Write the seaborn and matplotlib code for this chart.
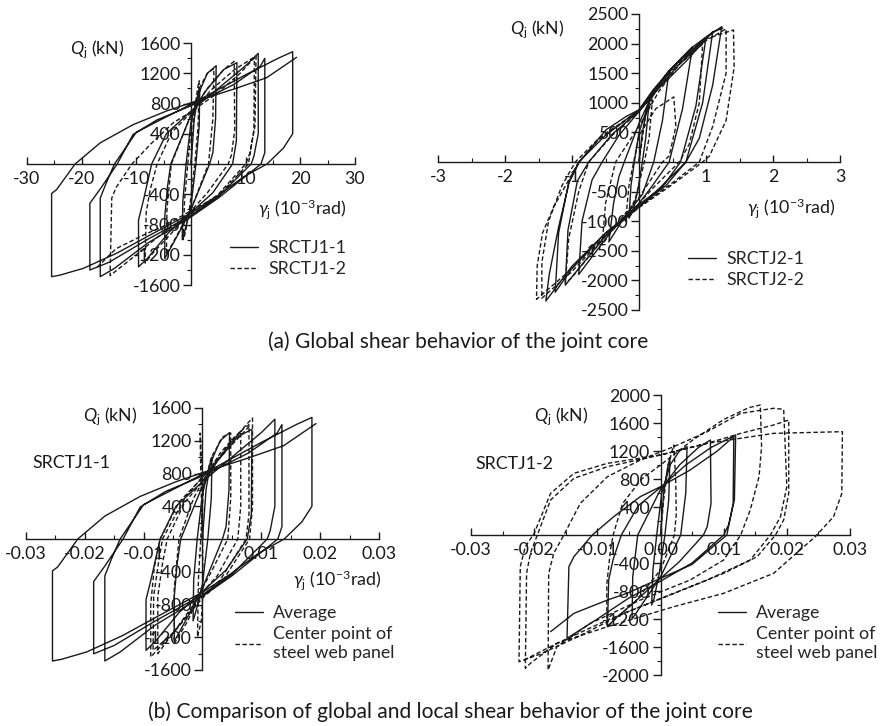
import numpy as np
import matplotlib
matplotlib.use("Agg")
import matplotlib.pyplot as plt
from matplotlib.lines import Line2D
from matplotlib.ticker import MultipleLocator, FuncFormatter
import seaborn as sns

# hysteresis paths, strain in 10^-3 rad, shear in kN
# SRCTJ1-1 global (also the "Average" curve of the lower left panel)
J11_x = [0.0,
         0.6, 1.4, 1.6, 1.5, 0.9, 0.0, -1.0, -1.6, -1.5, -0.9, 0.0,
         1.2, 3.0, 4.6, 4.5, 4.0, 3.4, 0.0, -2.5, -4.8, -4.8, -4.3, -3.7, 0.0,
         2.5, 6.0, 8.4, 8.3, 7.6, 4.0, 0.0, -4.0, -8.0, -9.6, -9.6, -8.7, -7.2, -4.5, 0.0,
         5.0, 10.0, 12.3, 12.3, 11.5, 11.0, 5.0, 0.0, -8.0, -15.0, -18.5, -18.5, -16.6, -13.5,
         -10.6, -6.3, 0.0, 7.8, 12.7, 13.5,
         13.5, 12.8, 5.0, 0.0, -8.0, -14.0, -16.6, -16.6, -15.5, -14.0, -10.0, 0.0, 10.0, 16.0, 18.6,
         18.6, 16.9, 13.9, 9.6, 4.7, 0.0, -7.5, -13.6, -19.7, -24.0, -25.5, -25.5, -24.6, -21.2,
         -16.6, -10.6, -4.5, 0.0, 7.8, 13.8, 19.3]
J11_q = [0,
         600, 950, 1000, 500, 0, -550, -850, -1000, -500, 0, 550,
         900, 1200, 1300, 600, 150, 0, -600, -950, -1250, -700, -300, 0, 650,
         950, 1250, 1340, 300, 0, -380, -640, -900, -1250, -1360, -740, -480, 0, 400, 700,
         1000, 1300, 1463, 400, 100, 0, -430, -680, -1000, -1300, -1402, -520, -330, 0,
         390, 580, 770, 1050, 1295, 1397,
         150, 0, -450, -700, -1050, -1380, -1490, -450, -250, 0, 420, 790, 1180, 1400, 1485,
         400, 210, 0, -170, -430, -650, -940, -1180, -1380, -1470, -1490, -390, -340, 0,
         280, 520, 700, 810, 990, 1140, 1410]

# SRCTJ1-2 global (also the "Average" curve of the lower right panel)
J12_x = [0.0,
         0.5, 1.2, 1.5, 1.3, 0.7, -0.2, -1.0, -1.4, -1.2, -0.6, 0.2,
         1.5, 3.0, 4.2, 4.0, 3.2, 0.0, -3.0, -4.5, -4.4, -3.6, 0.0,
         3.0, 6.0, 7.9, 8.0, 7.4, 6.8, 3.0, 0.0, -4.0, -7.0, -8.4, -8.2, -7.5, -6.2, -3.5, 0.0,
         4.0, 8.0, 11.9, 11.7, 10.8, 10.0, 5.0, 0.0, -5.0, -10.0, -14.8, -14.5, -13.7, -10.8,
         -7.4, -3.2, 0.0, 4.7, 9.0, 11.6,
         11.5, 10.5, 5.0, 0.0, -5.3, -8.4, -13.7, -17.4]
J12_q = [0,
         600, 1000, 1100, 500, 0, -550, -900, -1000, -500, 0, 600,
         1000, 1200, 1262, 600, 0, -600, -1000, -1200, -600, 0, 650,
         1000, 1250, 1357, 450, 120, 0, -380, -620, -950, -1180, -1310, -640, -350, 0, 420, 680,
         1000, 1250, 1429, 500, 150, 0, -400, -660, -900, -1200, -1476, -452, -309, 0,
         262, 548, 690, 929, 1200, 1405,
         450, 0, -420, -619, -833, -929, -1119, -1381]

# SRCTJ2-1 global
J21_x = [0.0,
         0.05, 0.12, 0.15, 0.10, 0.05, -0.02, -0.10, -0.15, -0.12, -0.07, 0.0,
         0.15, 0.35, 0.45, 0.35, 0.22, 0.05, -0.20, -0.45, -0.38, -0.30, -0.22, 0.0,
         0.20, 0.50, 0.80, 0.65, 0.45, 0.20, 0.0, -0.40, -0.80, -0.90, -0.85, -0.70, -0.55, -0.30, 0.0,
         0.25, 0.60, 1.00, 0.85, 0.62, 0.35, 0.0, -0.45, -0.90, -1.10, -1.06, -0.92, -0.75, -0.40,
         0.0,
         0.30, 0.70, 1.10, 0.95, 0.70, 0.40, 0.0, -0.50, -1.00, -1.25, -1.20, -1.05, -0.90, -0.50,
         0.0, 0.50, 1.00, 1.235,
         1.10, 0.90, 0.70, 0.30, 0.0, -0.50, -1.00, -1.39, -1.34, -1.20, -1.04, -0.89, -0.74,
         -0.49, -0.19, 0.0, 0.21, 0.51, 0.81, 1.11, 1.25]
J21_q = [0,
         500, 900, 1000, 400, 0, -500, -850, -950, -400, 0, 500,
         1000, 1400, 1550, 700, 0, -550, -900, -1350, -700, -250, 0, 650,
         1150, 1600, 1950, 900, 0, -400, -700, -1150, -1750, -1900, -1000, -300, 0, 450, 850,
         1200, 1650, 2100, 950, 0, -420, -720, -1180, -1800, -2080, -1150, -320, 0, 470,
         860,
         1250, 1700, 2200, 1000, 0, -400, -750, -1200, -1800, -2200, -1200, -350, 0, 450,
         880, 1600, 2100, 2287,
         1300, 400, 0, -450, -760, -1200, -1760, -2348, -1900, -1100, -330, 0, 208,
         545, 770, 882, 1219, 1612, 1950, 2202, 2260]

# SRCTJ2-2 global
J22_x = [0.0,
         0.10, 0.20, 0.15, 0.08, -0.05, -0.20, -0.15, -0.08, 0.0,
         0.25, 0.52, 0.55, 0.45, 0.35, 0.0, -0.30, -0.55, -0.50, -0.35, 0.0,
         0.30, 0.60, 0.95, 0.90, 0.75, 0.60, 0.20, 0.0, -0.50, -1.00, -1.10, -1.05, -0.90, -0.75, -0.40, 0.0,
         0.50, 1.00, 1.30, 1.30, 1.10, 0.90, 0.50, 0.0, -0.50, -1.00, -1.45, -1.45, -1.35, -1.15,
         -0.95, -0.60, 0.0, 0.50, 1.00, 1.41,
         1.42, 1.30, 1.05, 0.95, 0.50, 0.0, -0.50, -1.00, -1.53, -1.52, -1.44, -1.27, -0.99,
         -0.90, -0.60, 0.0]
J22_q = [0,
         800, 1050, 400, 0, -600, -1000, -400, 0, 450,
         900, 1100, 600, 100, 0, -600, -1000, -1400, -700, 0, 600,
         1200, 1650, 2000, 1000, 300, 0, -450, -700, -1250, -1950, -2050, -1300, -500, 0, 450, 850,
         1550, 2050, 2250, 1500, 600, 0, -350, -760, -1250, -1850, -2300, -1700, -1000, -400,
         0, 400, 870, 1580, 2080, 2230,
         1600, 700, 100, 0, -380, -770, -1230, -1800, -2320, -1760, -1200, -750, -185,
         0, 380, 860]

# centre point of steel web panel, SRCTJ1-1
W11_x = [0.0,
         0.0, -0.2, -0.4, -0.3, 0.0, 0.1, -0.2, -0.85, -0.7, -0.3, 0.1,
         1.5, 3.5, 4.8, 4.8, 4.3, 1.5, 0.0, -2.5, -4.8, -4.8, -4.0, -1.5, 0.0,
         3.0, 5.5, 6.5, 6.5, 6.0, 2.5, 0.0, -4.0, -7.6, -7.6, -6.8, -6.0, -3.0, 0.0,
         4.0, 7.0, 7.9, 7.9, 7.4, 3.0, 0.0, -5.0, -8.8, -8.8, -8.2, -7.2, -4.0, 0.0,
         4.5, 7.5, 8.5, 8.5, 8.0, 3.5, 0.0, -5.0, -8.4, -8.3, -7.5, -6.8, -3.0, 0.0, 5.0, 8.0]
W11_q = [0,
         600, 1000, 1294, 800, 0, -600, -1000, -1196, -500, 0, 600,
         1000, 1250, 1294, 500, 0, -400, -600, -1000, -1278, -600, 0, 500, 700,
         1050, 1250, 1314, 400, 0, -450, -650, -1050, -1400, -700, -300, 0, 450, 700,
         1100, 1350, 1396, 300, 0, -500, -700, -1150, -1441, -800, -350, 0, 450, 750,
         1150, 1400, 1478, 400, 0, -500, -720, -1150, -1360, -700, -300, 0, 500, 760, 1150, 1380]

# centre point of steel web panel, SRCTJ1-2
W12_x = [0.0,
         0.5, 1.2, 2.1, 2.4, 2.5, 2.2, 0.0, -4.0, -8.5, -8.5, -7.9, -7.5, -6.0, -3.0, 0.0,
         5.0, 10.0, 14.0, 15.8,
         16.0, 15.6, 14.2, 12.7, 10.0, 4.7, -3.2, -11.1, -16.4, -17.8, -17.7, -16.9, -15.3,
         -12.7, -8.4, -3.2, 2.1, 7.4, 12.7, 17.9, 19.5,
         20.0, 19.0, 17.4, 14.2, 7.4, -0.5, -8.4, -16.4, -20.6, -21.4, -21.2, -20.6, -19.5,
         -17.4, -13.7, -8.4, 0.0, 7.4, 12.7, 17.9, 20.3,
         20.3, 19.5, 18.2, 15.3, 10.0, 2.1, -5.8, -13.0, -19.0, -22.4, -22.2, -21.4, -20.0,
         -17.4, -13.7, -8.4, 0.0, 7.4, 17.9, 28.8,
         28.7, 27.4, 24.5, 17.9, 10.0, 2.1, -8.4, -16.4, -21.6]
W12_q = [0,
         500, 1000, 1286, 800, 300, 0, -500, -950, -1310, -700, -200, 0, 450, 800, 1000,
         1350, 1650, 1820, 1857,
         1262, 833, 357, 0, -357, -643, -929, -1262, -1595, -1929, -548, -262, 0,
         452, 833, 1071, 1262, 1476, 1738, 1810, 1795,
         690, 262, 0, -357, -643, -929, -1214, -1548, -1833, -1905, -548, -262, 0,
         500, 810, 976, 1143, 1310, 1452, 1571, 1643,
         595, 214, 0, -310, -548, -833, -1119, -1450, -1700, -1810, -452, -167, 24,
         595, 881, 1024, 1143, 1310, 1452, 1476,
         595, 262, -24, -548, -833, -1024, -1310, -1548, -1786]

INK = "#1a1a1a"
FS = 12.8
CAP_FS = 15.1
W, H = 893, 726

sns.set_theme(style="ticks")
plt.rcParams["font.family"] = ["Lato", "DejaVu Sans"]
plt.rcParams["mathtext.fontset"] = "custom"
plt.rcParams["mathtext.rm"] = "Lato"
plt.rcParams["mathtext.it"] = "Lato:italic"
plt.rcParams["axes.unicode_minus"] = False


def box(left, top, right, bottom):
    return [left / W, 1 - bottom / H, (right - left) / W, (bottom - top) / H]


def fx(x):
    return x / W


def fy(y):
    return 1 - y / H


def draw(ax, x, q, scale=1.0, dashed=False):
    ls = (0, (3.2, 1.8)) if dashed else "-"
    sns.lineplot(x=np.asarray(x) * scale, y=np.asarray(q, dtype=float), sort=False,
                 estimator=None, color=INK, linewidth=1.0, linestyle=ls, ax=ax)


def style(ax, xlim, ylim, xstep, ystep, xdec=0, keep_x0=False):
    ax.set_xlim(*xlim)
    ax.set_ylim(*ylim)
    ax.set_facecolor("none")
    sns.despine(ax=ax)
    ax.spines["left"].set_position(("data", 0))
    ax.spines["bottom"].set_position(("data", 0))
    for s in ("left", "bottom"):
        ax.spines[s].set_color(INK)
        ax.spines[s].set_linewidth(1.0)
    ax.xaxis.set_major_locator(MultipleLocator(xstep))
    ax.xaxis.set_minor_locator(MultipleLocator(xstep / 2))
    ax.yaxis.set_major_locator(MultipleLocator(ystep))
    ax.yaxis.set_minor_locator(MultipleLocator(ystep / 2))

    def xfmt(v, pos):
        if abs(v) < xstep * 1e-3:
            return f"{0:.{xdec}f}" if keep_x0 else ""
        return f"{v:.{xdec}f}"

    def yfmt(v, pos):
        return "" if abs(v) < 1e-6 else f"{v:.0f}"

    ax.xaxis.set_major_formatter(FuncFormatter(xfmt))
    ax.yaxis.set_major_formatter(FuncFormatter(yfmt))
    ax.tick_params(axis="y", which="major", direction="out", length=5.5, width=1.0,
                   pad=2, labelsize=FS, colors=INK, left=True)
    ax.tick_params(axis="y", which="minor", direction="out", length=3, width=0.8,
                   colors=INK, left=True)
    ax.tick_params(axis="x", which="major", direction="in", length=5, width=1.0,
                   pad=5, labelsize=FS, colors=INK, bottom=True)
    ax.tick_params(axis="x", which="minor", direction="in", length=3, width=0.8,
                   colors=INK, bottom=True)
    ax.set_xlabel("")
    ax.set_ylabel("")


def legend(ax, x, y, labels):
    handles = [Line2D([], [], color=INK, lw=1.0),
               Line2D([], [], color=INK, lw=1.0, linestyle=(0, (3.2, 1.8)))]
    ax.legend(handles, labels, loc="upper left", bbox_to_anchor=(fx(x), fy(y)),
              bbox_transform=fig.transFigure, frameon=False, fontsize=FS,
              handlelength=1.55, handletextpad=0.6, labelspacing=0.28,
              borderpad=0, borderaxespad=0)


fig = plt.figure(figsize=(W / 100, H / 100), dpi=100)
ax_a1 = fig.add_axes(box(27, 43, 355, 285))
ax_a2 = fig.add_axes(box(438, 14, 840, 310))
ax_b1 = fig.add_axes(box(26, 408, 379, 670))
ax_b2 = fig.add_axes(box(471, 395, 850, 675))

# (a) global behaviour
draw(ax_a1, J11_x, J11_q)
draw(ax_a1, J12_x, J12_q, dashed=True)
style(ax_a1, (-30, 30), (-1600, 1600), 10, 400)

draw(ax_a2, J21_x, J21_q)
draw(ax_a2, J22_x, J22_q, dashed=True)
style(ax_a2, (-3, 3), (-2500, 2500), 1, 500)

# (b) global vs local
draw(ax_b1, J11_x, J11_q, scale=1e-3)
draw(ax_b1, W11_x, W11_q, scale=1e-3, dashed=True)
style(ax_b1, (-0.03, 0.03), (-1600, 1600), 0.01, 400, xdec=2)

draw(ax_b2, J12_x, J12_q, scale=1e-3)
draw(ax_b2, W12_x, W12_q, scale=1e-3, dashed=True)
style(ax_b2, (-0.03, 0.03), (-2000, 2000), 0.01, 400, xdec=2, keep_x0=True)

q_label = r"$Q_{\mathrm{j}}$ (kN)"
g_label = r"$\gamma_{\mathrm{j}}$ (10$^{-3}$rad)"
for (x, y) in [(70, 50), (510, 30), (83, 417), (534, 417)]:
    fig.text(fx(x), fy(y), q_label, fontsize=FS, color=INK, ha="left", va="center")
for (x, y) in [(258, 209), (747, 208), (293, 580)]:
    fig.text(fx(x), fy(y), g_label, fontsize=FS, color=INK, ha="left", va="center")
fig.text(fx(32), fy(463), "SRCTJ1-1", fontsize=FS, color=INK, ha="left", va="center")
fig.text(fx(475), fy(464), "SRCTJ1-2", fontsize=FS, color=INK, ha="left", va="center")

legend(ax_a1, 230, 240, ["SRCTJ1-1", "SRCTJ1-2"])
legend(ax_a2, 688, 251, ["SRCTJ2-1", "SRCTJ2-2"])
legend(ax_b1, 235, 605, ["Average", "Center point of\nsteel web panel"])
legend(ax_b2, 718, 605, ["Average", "Center point of\nsteel web panel"])

fig.text(fx(458), fy(342), "(a) Global shear behavior of the joint core",
         fontsize=CAP_FS, color=INK, ha="center", va="center")
fig.text(fx(148), fy(712), "(b) Comparison of global and local shear behavior of the joint core",
         fontsize=CAP_FS, color=INK, ha="left", va="center")

fig.savefig("out.png", dpi=100, facecolor="white")
